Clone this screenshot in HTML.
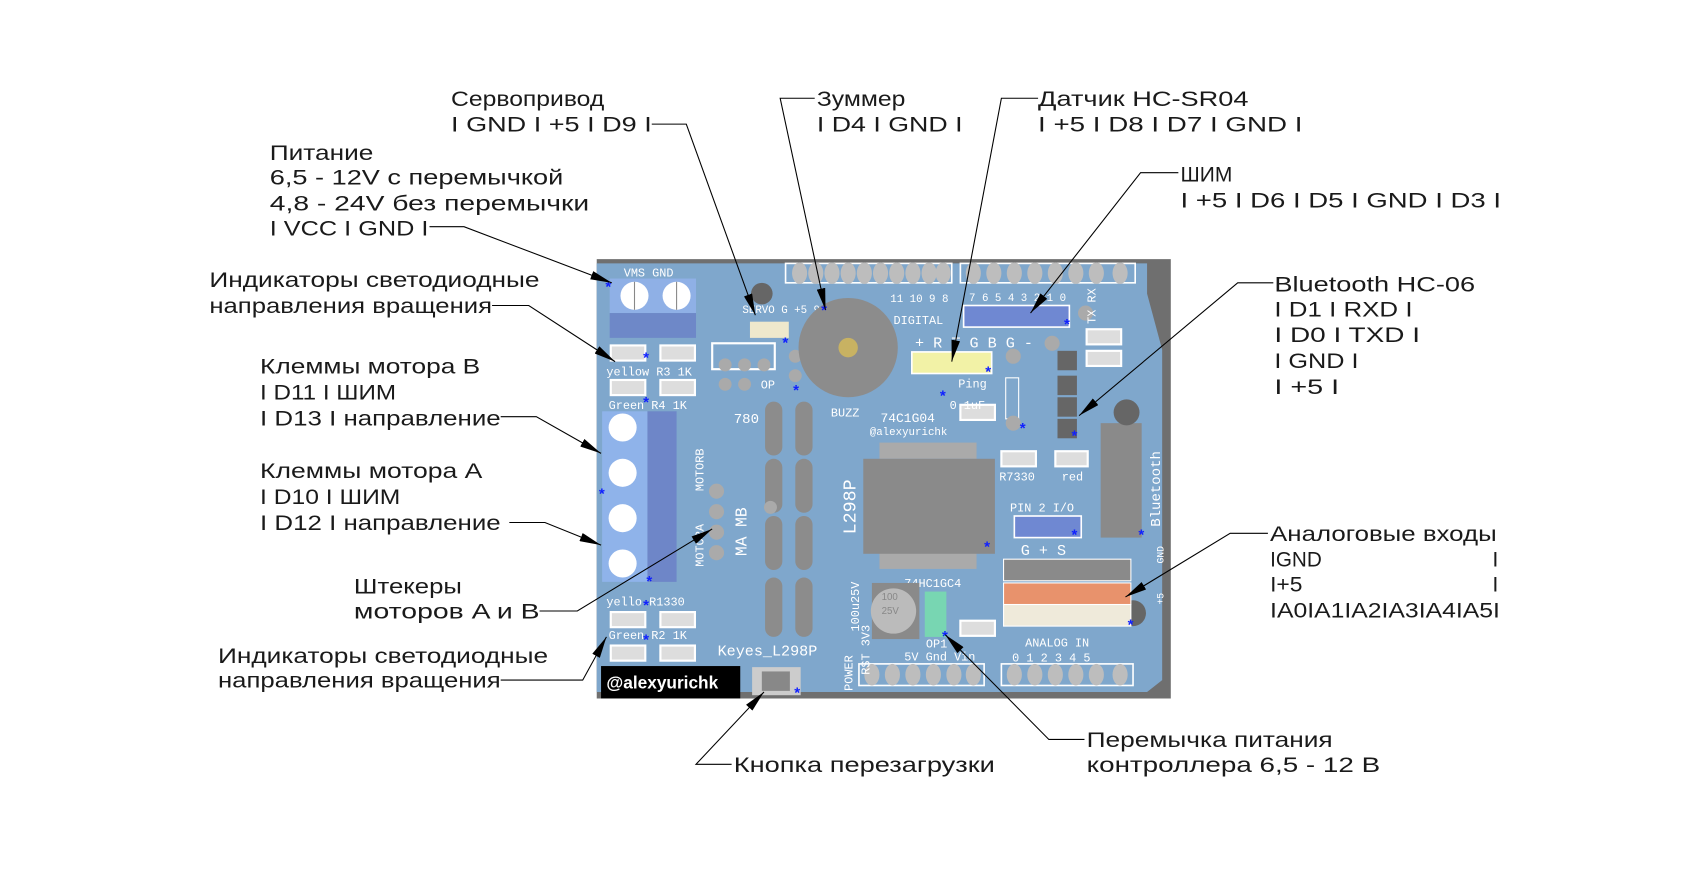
<!DOCTYPE html>
<html><head><meta charset="utf-8"><style>
html,body{margin:0;padding:0;background:#fff;}
svg{display:block}
.t{font-family:"Liberation Sans","DejaVu Sans",sans-serif;font-size:20px;fill:#1a1a1a;}
.w{font-family:"Liberation Mono","DejaVu Sans Mono",monospace;font-size:11px;fill:#fff;}
.a{font-family:"Liberation Sans",sans-serif;font-size:14px;fill:#1020ff;font-weight:bold}
</style></head><body>
<svg width="1692" height="869" viewBox="0 0 1568 805" preserveAspectRatio="none" xmlns="http://www.w3.org/2000/svg">
<defs>
<marker id="ar" viewBox="0 0 20 8" refX="20" refY="4" markerWidth="20" markerHeight="8" markerUnits="userSpaceOnUse" orient="auto">
<path d="M0,0 L20,4 L0,8 z" fill="#000"/></marker>
<g id="pin"><ellipse cx="0" cy="0" rx="7" ry="10" fill="#bdbdbd"/></g>
</defs>
<rect width="1568" height="805" fill="#fff"/>

<!-- Board -->
<polygon points="553,240 1085,240 1085,647 553,647" fill="#6f6f6f"/>
<polygon points="553,244 1063,244 1063,272 1077,324 1077,630 1063,641 553,641" fill="#7fa7cc"/>
<!-- headers -->
<g>
<rect x="728" y="244" width="154" height="18" fill="none" stroke="#fff" stroke-width="1.5"/>
<rect x="890" y="244" width="162" height="18" fill="none" stroke="#fff" stroke-width="1.5"/>
<rect x="796" y="615" width="116" height="20" fill="none" stroke="#fff" stroke-width="1.5"/>
<rect x="928" y="615" width="122" height="20" fill="none" stroke="#fff" stroke-width="1.5"/>
<use href="#pin" x="741" y="253"/><use href="#pin" x="756" y="253"/><use href="#pin" x="771" y="253"/><use href="#pin" x="786" y="253"/><use href="#pin" x="801" y="253"/><use href="#pin" x="816" y="253"/><use href="#pin" x="831" y="253"/><use href="#pin" x="846" y="253"/><use href="#pin" x="861" y="253"/><use href="#pin" x="874" y="253"/>
<use href="#pin" x="902" y="253"/><use href="#pin" x="921" y="253"/><use href="#pin" x="940" y="253"/><use href="#pin" x="959" y="253"/><use href="#pin" x="978" y="253"/><use href="#pin" x="997" y="253"/><use href="#pin" x="1016" y="253"/><use href="#pin" x="1038" y="253"/>
<use href="#pin" x="808" y="625"/><use href="#pin" x="827" y="625"/><use href="#pin" x="846" y="625"/><use href="#pin" x="865" y="625"/><use href="#pin" x="884" y="625"/><use href="#pin" x="902" y="625"/>
<use href="#pin" x="940" y="625"/><use href="#pin" x="959" y="625"/><use href="#pin" x="978" y="625"/><use href="#pin" x="997" y="625"/><use href="#pin" x="1016" y="625"/><use href="#pin" x="1038" y="625"/>
</g>
<circle cx="706" cy="272" r="10" fill="#666"/>
<!-- power terminal -->
<rect x="565" y="258" width="80" height="32" fill="#8fb0e6"/>
<rect x="565" y="290" width="80" height="23" fill="#6e88c8"/>
<circle cx="588" cy="274" r="13" fill="#fff"/><circle cx="627" cy="274" r="13" fill="#fff"/>
<line x1="588" y1="261" x2="588" y2="287" stroke="#888"/><line x1="627" y1="261" x2="627" y2="287" stroke="#888"/>
<text class="w" x="578" y="256">VMS GND</text>
<!-- motor terminal -->
<rect x="558" y="381" width="42" height="158" fill="#8fb3ea"/>
<rect x="600" y="381" width="27" height="158" fill="#6e86c8"/>
<g fill="#fff"><circle cx="577" cy="396" r="13"/><circle cx="577" cy="438" r="13"/><circle cx="577" cy="480" r="13"/><circle cx="577" cy="522" r="13"/></g>
<text class="w" transform="translate(652,455) rotate(-90)">MOTORB</text>
<text class="w" transform="translate(652,525) rotate(-90)">MOTORA</text>
<text class="w" transform="translate(692,515) rotate(-90)" style="font-size:15px">MA MB</text>
<g fill="#aaa"><circle cx="664" cy="455" r="7"/><circle cx="664" cy="474" r="7"/><circle cx="664" cy="493" r="7"/><circle cx="664" cy="512" r="7"/></g>
<!-- small resistors / LEDs -->
<g fill="#ddd" stroke="#fff" stroke-width="2">
<rect x="566" y="320" width="32" height="14"/><rect x="612" y="320" width="32" height="14"/>
<rect x="566" y="352" width="32" height="14"/><rect x="612" y="352" width="32" height="14"/>
<rect x="566" y="567" width="32" height="14"/><rect x="612" y="567" width="32" height="14"/>
<rect x="566" y="598" width="32" height="14"/><rect x="612" y="598" width="32" height="14"/>
<rect x="1007" y="305" width="32" height="14"/><rect x="1007" y="325" width="32" height="14"/>
<rect x="928" y="418" width="32" height="14"/><rect x="978" y="418" width="30" height="14"/>
<rect x="890" y="375" width="32" height="14"/><rect x="890" y="575" width="32" height="14"/>
</g>
<g class="w"><text x="562" y="348">yellow R3 1K</text><text x="564" y="379">Green  R4 1K</text>
<text x="562" y="561">yello  R1330</text><text x="564" y="592">Green  R2 1K</text>
<text x="926" y="445">R7330</text><text x="984" y="445">red</text></g>
<!-- servo -->
<rect x="695" y="298" width="36" height="15" fill="#eee8cc"/>
<text class="w" x="688" y="290" style="font-size:10px">SERVO G +5 9</text>
<rect x="660" y="318" width="58" height="24" fill="none" stroke="#fff" stroke-width="2"/>
<g fill="#aaa"><circle cx="672" cy="338" r="6"/><circle cx="690" cy="338" r="6"/><circle cx="708" cy="338" r="6"/><circle cx="672" cy="356" r="6"/><circle cx="690" cy="356" r="6"/><circle cx="737" cy="330" r="6"/><circle cx="737" cy="348" r="6"/></g>
<text class="w" x="705" y="360">OP</text><text class="w" x="680" y="392" style="font-size:13px">780</text>
<!-- pills -->
<g fill="#8c8c8c">
<rect x="709" y="372" width="16" height="50" rx="8"/><rect x="737" y="372" width="16" height="50" rx="8"/>
<rect x="709" y="425" width="16" height="50" rx="8"/><rect x="737" y="425" width="16" height="50" rx="8"/>
<rect x="709" y="478" width="16" height="50" rx="8"/><rect x="737" y="478" width="16" height="50" rx="8"/>
<rect x="709" y="535" width="16" height="55" rx="8"/><rect x="737" y="535" width="16" height="55" rx="8"/>
</g>
<circle cx="714" cy="470" r="6" fill="#aaa"/>
<!-- buzzer -->
<circle cx="786" cy="322" r="46" fill="#8c8c8c"/><circle cx="786" cy="322" r="9" fill="#c8b262"/>
<text class="w" x="770" y="386">BUZZ</text>
<text class="w" x="825" y="280" style="font-size:10px">11 10  9  8</text>
<text class="w" x="828" y="300">DIGITAL</text>
<text class="w" x="898" y="279" style="font-size:10px">7  6  5  4  3  2  1  0</text>
<!-- blue headers -->
<rect x="893" y="283" width="98" height="20" fill="#6f88d2" stroke="#fff" stroke-width="1.5"/>
<rect x="940" y="478" width="62" height="20" fill="#6f88d2" stroke="#fff" stroke-width="1.5"/>
<text class="w" x="936" y="474">PIN 2 I/O</text><text class="w" x="946" y="514" style="font-size:14px">G + S</text>
<text class="w" x="848" y="322" style="font-size:14px">+ R T G B G -</text>
<rect x="845" y="326" width="74" height="20" fill="#f2f2a6" stroke="#fff" stroke-width="1.5"/>
<text class="w" x="888" y="359">Ping</text>
<text class="w" x="816" y="391" style="font-size:12px">74C1G04</text>
<text class="w" x="806" y="403" style="font-size:10px">@alexyurichk</text>
<text class="w" x="880" y="379">0.1uF</text>
<rect x="932" y="350" width="12" height="38" fill="none" stroke="#fff"/>
<g fill="#aaa"><circle cx="939" cy="330" r="7"/><circle cx="939" cy="392" r="7"/><circle cx="975" cy="318" r="7"/><circle cx="1006" cy="290" r="7"/></g>
<g fill="#666"><rect x="980" y="325" width="18" height="18"/><rect x="980" y="348" width="18" height="18"/><rect x="980" y="368" width="18" height="18"/><rect x="980" y="388" width="18" height="18"/></g>
<text class="w" x="1015" y="300" transform="rotate(-90 1015 300)">TX RX</text>
<!-- chip -->
<g fill="#aaa">
<rect x="815" y="410" width="90" height="15"/><rect x="815" y="512" width="90" height="15"/>
</g>
<rect x="800" y="425" width="122" height="88" fill="#8a8a8a"/>
<text class="w" transform="translate(793,495) rotate(-90)" style="font-size:17px">L298P</text>
<!-- bluetooth -->
<rect x="1020" y="392" width="38" height="106" fill="#8a8a8a"/>
<text class="w" transform="translate(1075,488) rotate(-90)" style="font-size:13px">Bluetooth</text>
<text class="w" transform="translate(1078,522) rotate(-90)" style="font-size:9px">GND</text>
<text class="w" transform="translate(1078,560) rotate(-90)" style="font-size:9px">+5</text>
<circle cx="1044" cy="382" r="12" fill="#666"/><circle cx="1050" cy="568" r="12" fill="#666"/>
<!-- analog headers -->
<rect x="930" y="518" width="118" height="20" fill="#8a8a8a" stroke="#fff"/>
<rect x="930" y="540" width="118" height="20" fill="#e8926c" stroke="#fff"/>
<rect x="930" y="560" width="118" height="20" fill="#efeada" stroke="#fff"/>
<text class="w" x="950" y="599">ANALOG   IN</text>
<text class="w" x="938" y="613">0 1 2 3 4 5</text>
<text class="w" x="838" y="544">74HC1GC4</text>
<!-- capacitor -->
<rect x="808" y="540" width="44" height="52" fill="#8a8a8a"/>
<circle cx="828" cy="566" r="21" fill="#bbb"/>
<text x="817" y="556" style="font-family:Liberation Sans;font-size:9px;fill:#888">100</text>
<text x="817" y="569" style="font-family:Liberation Sans;font-size:9px;fill:#888">25V</text>
<text class="w" transform="translate(796,585) rotate(-90)">100u25V</text>
<rect x="857" y="548" width="20" height="42" fill="#78d6b2"/>
<text class="w" x="858" y="600">OP1</text>
<text class="w" x="838" y="612">5V Gnd  Vin</text>
<text class="w" transform="translate(790,640) rotate(-90)">POWER</text>
<text class="w" transform="translate(806,625) rotate(-90)">RST 3V3</text>
<!-- keyes -->
<text class="w" x="665" y="607" style="font-size:14px">Keyes_L298P</text>
<rect x="557" y="617" width="129" height="30" fill="#000"/>
<text x="562" y="638" style="font-family:Liberation Sans;font-weight:bold;font-size:16px;fill:#fff">@alexyurichk</text>
<rect x="697" y="618" width="45" height="26" fill="#ccc"/><rect x="706" y="622" width="26" height="18" fill="#888"/>
<!-- asterisks -->
<g class="a">
<text x="561" y="270">*</text><text x="596" y="336">*</text><text x="596" y="377">*</text><text x="555" y="462">*</text>
<text x="599" y="543">*</text><text x="596" y="565">*</text><text x="596" y="597">*</text><text x="725" y="322">*</text>
<text x="735" y="366">*</text><text x="761" y="292">*</text><text x="913" y="349">*</text><text x="986" y="305">*</text>
<text x="871" y="371">*</text><text x="945" y="401">*</text><text x="993" y="408">*</text><text x="993" y="500">*</text>
<text x="912" y="511">*</text><text x="1055" y="500">*</text><text x="1045" y="583">*</text><text x="873" y="594">*</text>
<text x="736" y="646">*</text>
</g>

<!-- Leaders -->
<g stroke="#000" stroke-width="1" fill="none">
<polyline points="604,115 636,115 700,292" marker-end="url(#ar)"/>
<polyline points="755,91 723,91 765,287" marker-end="url(#ar)"/>
<polyline points="962,91 928,91 882,335" marker-end="url(#ar)"/>
<polyline points="1092,160 1057,160 955,290" marker-end="url(#ar)"/>
<polyline points="1180,262 1147,262 1000,385" marker-end="url(#ar)"/>
<polyline points="1175,494 1140,494 1043,553" marker-end="url(#ar)"/>
<polyline points="1005,685 972,685 876,588" marker-end="url(#ar)"/>
<polyline points="678,708 645,708 708,641" marker-end="url(#ar)"/>
<polyline points="398,210 430,210 567,262" marker-end="url(#ar)"/>
<polyline points="456,283 490,283 570,335" marker-end="url(#ar)"/>
<polyline points="464,386 497,386 557,420" marker-end="url(#ar)"/>
<polyline points="472,484 505,484 557,505" marker-end="url(#ar)"/>
<polyline points="500,566 535,566 660,490" marker-end="url(#ar)"/>
<polyline points="464,630 540,630 562,590" marker-end="url(#ar)"/>
</g>

<!-- Labels -->
<g class="t">
<text x="418" y="98" textLength="142" lengthAdjust="spacingAndGlyphs">Сервопривод</text>
<text x="418" y="122" textLength="186" lengthAdjust="spacingAndGlyphs">I GND I +5 I D9 I</text>
<text x="757" y="98" textLength="82" lengthAdjust="spacingAndGlyphs">Зуммер</text>
<text x="757" y="122" textLength="135" lengthAdjust="spacingAndGlyphs">I D4 I GND I</text>
<text x="962" y="98" textLength="195" lengthAdjust="spacingAndGlyphs">Датчик HC-SR04</text>
<text x="962" y="122" textLength="245" lengthAdjust="spacingAndGlyphs">I +5 I D8 I D7 I GND I</text>
<text x="1094" y="168" textLength="48" lengthAdjust="spacingAndGlyphs">ШИМ</text>
<text x="1094" y="192" textLength="297" lengthAdjust="spacingAndGlyphs">I +5 I D6 I D5 I GND I D3 I</text>
<text x="250" y="148" textLength="96" lengthAdjust="spacingAndGlyphs">Питание</text>
<text x="250" y="171" textLength="272" lengthAdjust="spacingAndGlyphs">6,5 - 12V с перемычкой</text>
<text x="250" y="195" textLength="296" lengthAdjust="spacingAndGlyphs">4,8 - 24V без перемычки</text>
<text x="250" y="218" textLength="147" lengthAdjust="spacingAndGlyphs">I VCC I GND I</text>
<text x="194" y="266" textLength="306" lengthAdjust="spacingAndGlyphs">Индикаторы светодиодные</text>
<text x="194" y="290" textLength="262" lengthAdjust="spacingAndGlyphs">направления вращения</text>
<text x="241" y="346" textLength="204" lengthAdjust="spacingAndGlyphs">Клеммы мотора B</text>
<text x="241" y="370" textLength="126" lengthAdjust="spacingAndGlyphs">I D11 I ШИМ</text>
<text x="241" y="394" textLength="223" lengthAdjust="spacingAndGlyphs">I D13 I направление</text>
<text x="241" y="443" textLength="206" lengthAdjust="spacingAndGlyphs">Клеммы мотора A</text>
<text x="241" y="467" textLength="130" lengthAdjust="spacingAndGlyphs">I D10 I ШИМ</text>
<text x="241" y="491" textLength="223" lengthAdjust="spacingAndGlyphs">I D12 I направление</text>
<text x="328" y="550" textLength="100" lengthAdjust="spacingAndGlyphs">Штекеры</text>
<text x="328" y="573" textLength="172" lengthAdjust="spacingAndGlyphs">моторов A и B</text>
<text x="202" y="614" textLength="306" lengthAdjust="spacingAndGlyphs">Индикаторы светодиодные</text>
<text x="202" y="637" textLength="262" lengthAdjust="spacingAndGlyphs">направления вращения</text>
<text x="680" y="715" textLength="242" lengthAdjust="spacingAndGlyphs">Кнопка перезагрузки</text>
<text x="1007" y="692" textLength="228" lengthAdjust="spacingAndGlyphs">Перемычка питания</text>
<text x="1007" y="715" textLength="272" lengthAdjust="spacingAndGlyphs">контроллера 6,5 - 12 B</text>
<text x="1181" y="270" textLength="186" lengthAdjust="spacingAndGlyphs">Bluetooth HC-06</text>
<text x="1181" y="293" textLength="128" lengthAdjust="spacingAndGlyphs">I D1 I RXD I</text>
<text x="1181" y="317" textLength="135" lengthAdjust="spacingAndGlyphs">I D0 I TXD I</text>
<text x="1181" y="341" textLength="78" lengthAdjust="spacingAndGlyphs">I GND I</text>
<text x="1181" y="365" textLength="60" lengthAdjust="spacingAndGlyphs">I +5 I</text>
<text x="1177" y="501" textLength="210" lengthAdjust="spacingAndGlyphs">Аналоговые входы</text>
<text x="1177" y="525" textLength="48" lengthAdjust="spacingAndGlyphs">IGND</text><text x="1383" y="525">I</text>
<text x="1177" y="548" textLength="30" lengthAdjust="spacingAndGlyphs">I+5</text><text x="1383" y="548">I</text>
<text x="1177" y="572" textLength="213" lengthAdjust="spacingAndGlyphs">IA0IA1IA2IA3IA4IA5I</text>
</g>
</svg>
</body></html>
